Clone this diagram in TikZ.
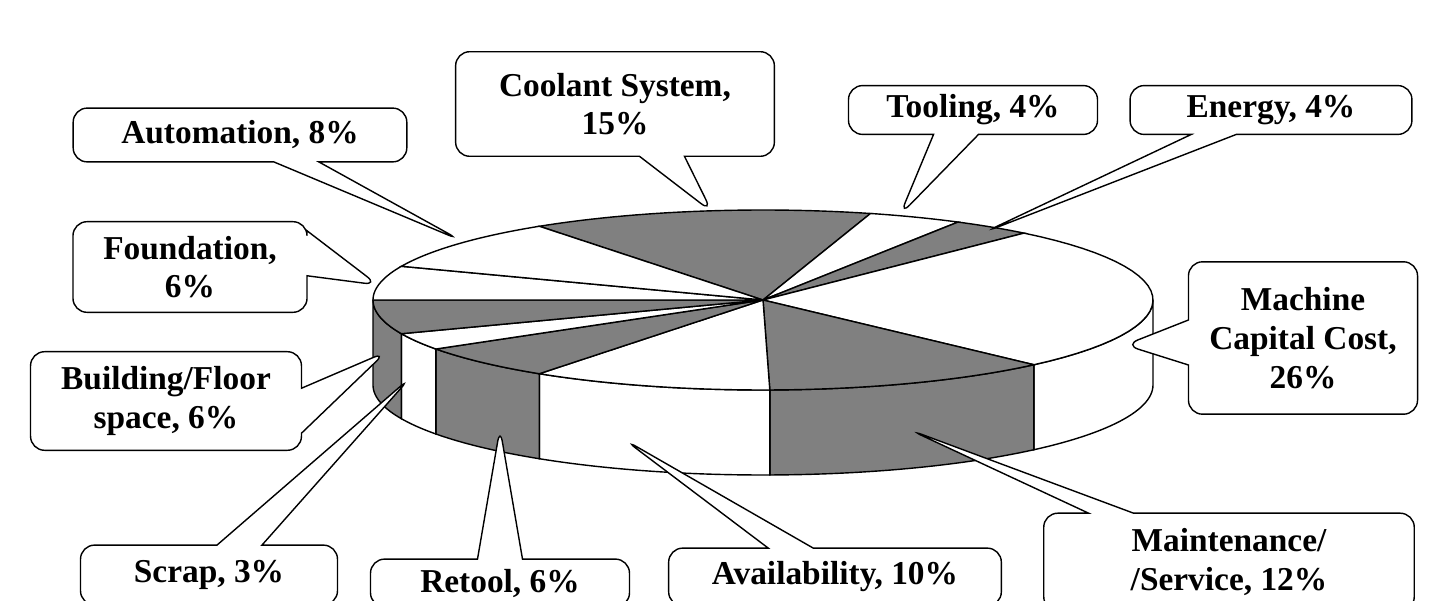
\documentclass[tikz,border=0pt]{standalone}
\usepackage{fontspec}
\setmainfont{Liberation Serif}
\usetikzlibrary{shapes.callouts}

\begin{document}
\begin{tikzpicture}
            [x=0.02cm, y=-0.02cm, line width=0.8pt,
            label/.style={rectangle callout, rounded corners=8pt, draw=black, fill=white,
              align=center, font=\fontsize{19}{22}\selectfont\bfseries, inner sep=2pt,
              callout pointer width=0.9cm},
            box/.style 2 args={minimum width={#1*0.5669pt}, minimum height={#2*0.5669pt}}]

            \useasboundingbox (0,0) rectangle (1434,601);
            \clip (0,0) rectangle (1434,601);
            \def\cx{763}\def\cy{300}\def\rx{390}\def\ry{90}\def\dep{85}

            % side walls
            \foreach \a/\b/\c in {0/-46/white, -46/-89/gray, -89/-125/white,
                -125/-147/gray, -147/-158/white, -158/-180/gray}
              \filldraw[fill=\c] plot[domain=\a:\b, samples=30] ({\cx+\rx*cos(\x)},{\cy-\ry*sin(\x)})
                -- plot[domain=\b:\a, samples=30] ({\cx+\rx*cos(\x)},{\cy+\dep-\ry*sin(\x)}) -- cycle;

            % top wedges
            \foreach \a/\b/\c in {125/74/gray, 74/60/white, 60/48/gray, 48/-46/white,
                -46/-89/gray, -89/-125/white, -125/-147/gray, -147/-158/white,
                -158/-180/gray, -180/-202/white, -202/-235/white}
              \filldraw[fill=\c] (\cx,\cy) -- plot[domain=\a:\b, samples=30]
                ({\cx+\rx*cos(\x)},{\cy-\ry*sin(\x)}) -- cycle;

            \node[label, box={335}{54}, callout absolute pointer={(460,240)}]
              (automation) at (240,135) {Automation, 8\%};
            \node[label, box={320}{105}, callout absolute pointer={(712,212)}]
              (coolant) at (615,104) {Coolant System,\\15\%};
            \node[label, box={250}{49}, callout absolute pointer={(900,215)}]
              (tooling) at (973,110) {Tooling, 4\%};
            \node[label, box={283}{49}, callout absolute pointer={(985,232)}]
              (energy) at (1271,110) {Energy, 4\%};
            \node[label, box={235}{91}, callout absolute pointer={(378,285)}]
              (foundation) at (190,267) {Foundation,\\6\%};
            \node[label, box={230}{153}, callout absolute pointer={(1125,345)}]
              (machine) at (1303,338) {Machine\\Capital Cost,\\26\%};
            \node[label, box={272}{99}, callout absolute pointer={(386,352)}]
              (building) at (166,401) {Building/Floor\\space, 6\%};
            \node[label, box={258}{60}, callout absolute pointer={(410,378)}]
              (scrap) at (209,575) {Scrap, 3\%};
            \node[label, box={260}{48}, callout absolute pointer={(500,428)}]
              (retool) at (500,583) {Retool, 6\%};
            \node[label, box={334}{58}, callout absolute pointer={(625,440)}]
              (availability) at (835,577) {Availability, 10\%};
            \node[label, box={372}{98}, callout absolute pointer={(910,430)}]
              (maintenance) at (1229,562) {Maintenance/\\/Service, 12\%};

          \end{tikzpicture}
\end{document}
